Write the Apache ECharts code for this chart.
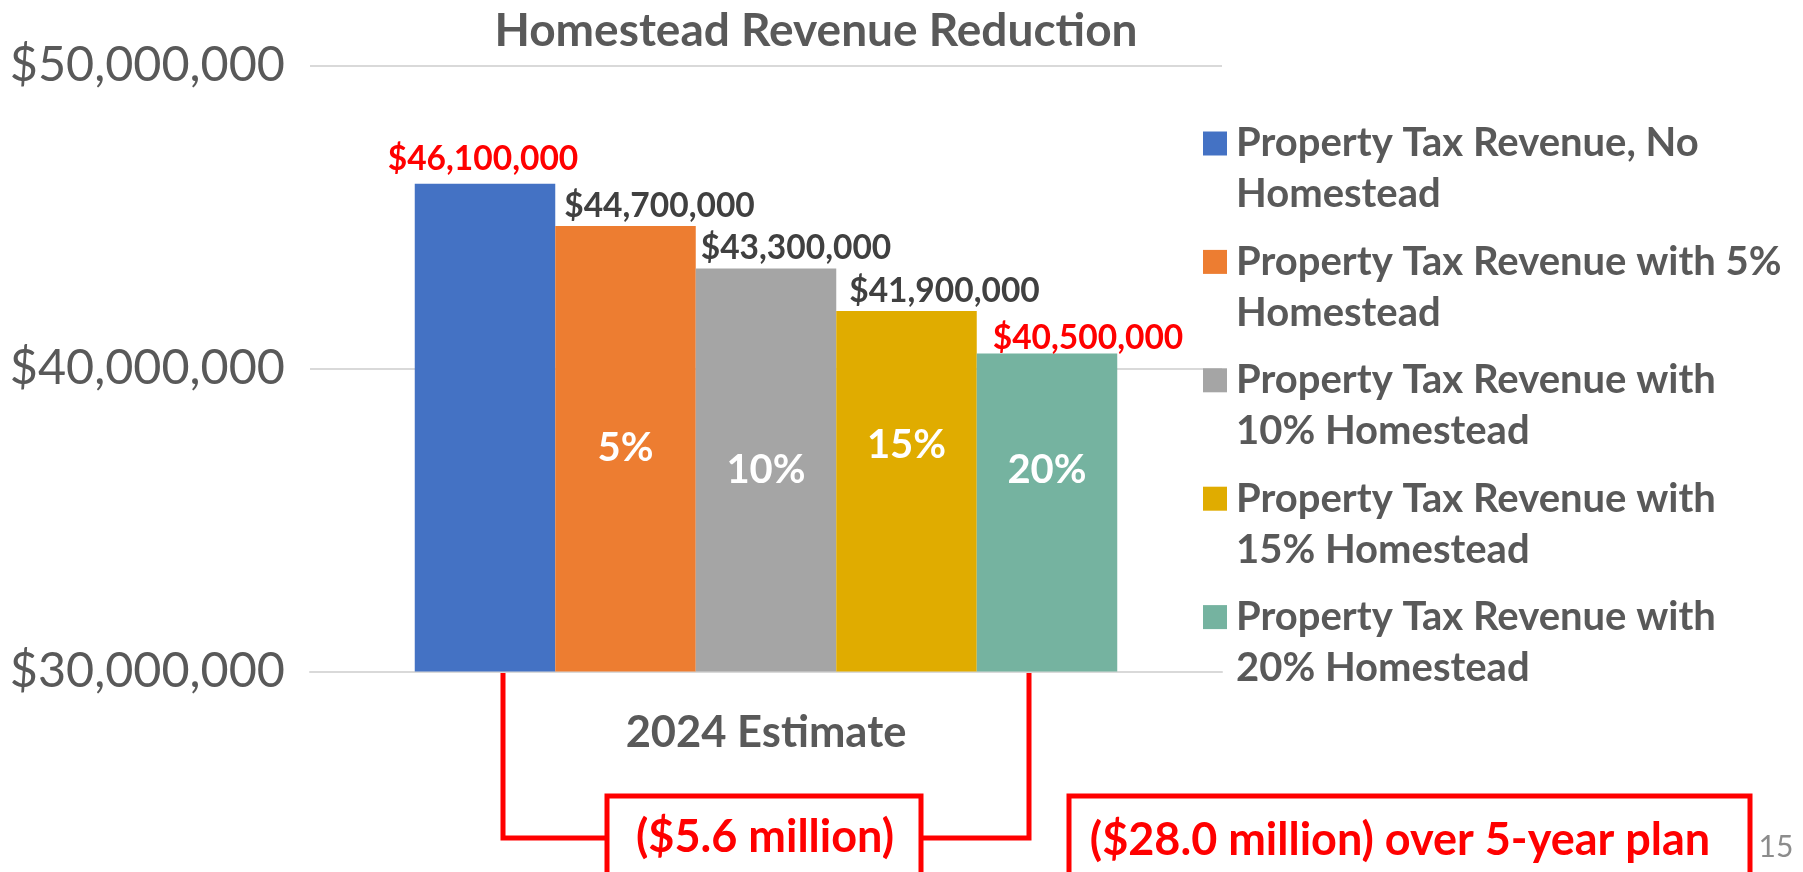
<!DOCTYPE html>
<html>
<head>
<meta charset="utf-8">
<script src="https://cdn.jsdelivr.net/npm/echarts@6/dist/echarts.min.js"></script>
<style>
  html, body { margin: 0; padding: 0; background: #fff; }
  #main { width: 1803px; height: 872px; }
</style>
</head>
<body>
<div id="main"></div>
<script>
// data
var categories = ['2024 Estimate'];
var seriesNames = [
  'Property Tax Revenue, No\nHomestead',
  'Property Tax Revenue with 5%\nHomestead',
  'Property Tax Revenue with\n10% Homestead',
  'Property Tax Revenue with\n15% Homestead',
  'Property Tax Revenue with\n20% Homestead'
];
var revenue = [46100000, 44700000, 43300000, 41900000, 40500000];
var pctLabels = ['', '5%', '10%', '15%', '20%'];
var yTicks = [30000000, 40000000, 50000000];

var colors = ['#4472C4', '#ED7D31', '#A5A5A5', '#E0AC00', '#75B3A0'];
var labelColors = ['#FF0000', '#404040', '#404040', '#404040', '#FF0000'];
// label offsets (px) and where the % text sits on the y axis
var labelOffsets = [[-2, -2], [34, 2.5], [30, 1.5], [38, 2.5], [41, 6.5]];
var pctAnchor = [0, 37380000, 36650000, 37480000, 36650000];

var FONT = 'Lato';
var chart = echarts.init(document.getElementById('main'));

var series = revenue.map(function (v, i) {
  var s = {
    name: seriesNames[i],
    type: 'bar',
    barWidth: 140.5,
    barGap: '0%',
    itemStyle: { color: colors[i] },
    data: [v],
    label: {
      show: true,
      position: 'top',
      offset: labelOffsets[i],
      fontFamily: FONT,
      fontWeight: 'bold',
      fontSize: 33.5,
      color: labelColors[i],
      formatter: function (p) { return '$' + p.value.toLocaleString('en-US'); }
    }
  };
  if (pctLabels[i]) {
    s.markPoint = {
      symbol: 'circle',
      symbolSize: 1,
      itemStyle: { color: 'rgba(0,0,0,0)' },
      data: [{ coord: [categories[0], pctAnchor[i]] }],
      label: {
        show: true,
        position: 'inside',
        fontFamily: FONT,
        fontWeight: 'bold',
        fontSize: 40,
        color: '#ffffff',
        formatter: pctLabels[i]
      }
    };
  }
  return s;
});

// legend text: an empty first row keeps the colour square level with the first line
function legendText(name) {
  return '{e| }\n{a|' + name.split('\n').join('}\n{a|') + '}';
}

var red = '#FF0000';
var option = {
  backgroundColor: '#ffffff',
  animation: false,
  title: {
    text: 'Homestead Revenue Reduction',
    left: 811,
    top: 3,
    textAlign: 'center',
    textStyle: { fontFamily: FONT, fontWeight: 'bold', fontSize: 46, color: '#595959' }
  },
  legend: {
    orient: 'vertical',
    left: 1203,
    top: 87.5,
    padding: 0,
    icon: 'rect',
    itemWidth: 24,
    itemHeight: 24,
    itemGap: -8.6,
    data: seriesNames,
    formatter: legendText,
    textStyle: {
      fontFamily: FONT,
      fontWeight: 'bold',
      fontSize: 40,
      color: '#595959',
      rich: {
        e: { fontSize: 10, lineHeight: 51 },
        a: { fontFamily: FONT, fontWeight: 'bold', fontSize: 40, lineHeight: 51, color: '#595959', padding: [0, 0, 0, 4] }
      }
    }
  },
  grid: { left: 310, right: 581, top: 65.5, bottom: 200.4, containLabel: false },
  xAxis: {
    type: 'category',
    data: categories,
    axisTick: { show: false },
    axisLine: { lineStyle: { color: '#D9D9D9', width: 2 } },
    axisLabel: {
      margin: 39,
      fontFamily: FONT,
      fontWeight: 'bold',
      fontSize: 43.5,
      color: '#595959'
    }
  },
  yAxis: {
    type: 'value',
    min: yTicks[0],
    max: yTicks[yTicks.length - 1],
    interval: yTicks[1] - yTicks[0],
    axisLine: { show: false },
    axisTick: { show: false },
    splitLine: { lineStyle: { color: '#D9D9D9', width: 2 } },
    axisLabel: {
      margin: 25,
      fontFamily: FONT,
      fontSize: 48.5,
      color: '#595959',
      formatter: function (v) { return '$' + v.toLocaleString('en-US'); }
    }
  },
  series: series,
  graphic: [
    // bracket under the bars
    { type: 'polyline', shape: { points: [[503, 673], [503, 838], [607, 838]] },
      style: { stroke: red, lineWidth: 5, fill: null } },
    { type: 'polyline', shape: { points: [[1029, 673], [1029, 838], [921, 838]] },
      style: { stroke: red, lineWidth: 5, fill: null } },
    { type: 'rect', shape: { x: 607, y: 796, width: 314, height: 100 },
      style: { fill: '#fff', stroke: red, lineWidth: 5 } },
    { type: 'text', x: 765, y: 837,
      style: { text: '($5.6 million)', fill: red, font: 'bold 45px Lato', align: 'center', verticalAlign: 'middle' } },
    { type: 'rect', shape: { x: 1069, y: 796, width: 681, height: 100 },
      style: { fill: '#fff', stroke: red, lineWidth: 5 } },
    { type: 'text', x: 1400, y: 840,
      style: { text: '($28.0 million) over 5-year plan', fill: red, font: 'bold 45px Lato', align: 'center', verticalAlign: 'middle' } },
    { type: 'text', x: 1776, y: 847,
      style: { text: '15', fill: '#8C8C8C', font: '30px Lato', align: 'center', verticalAlign: 'middle' } }
  ]
};

chart.setOption(option);
</script>
</body>
</html>
